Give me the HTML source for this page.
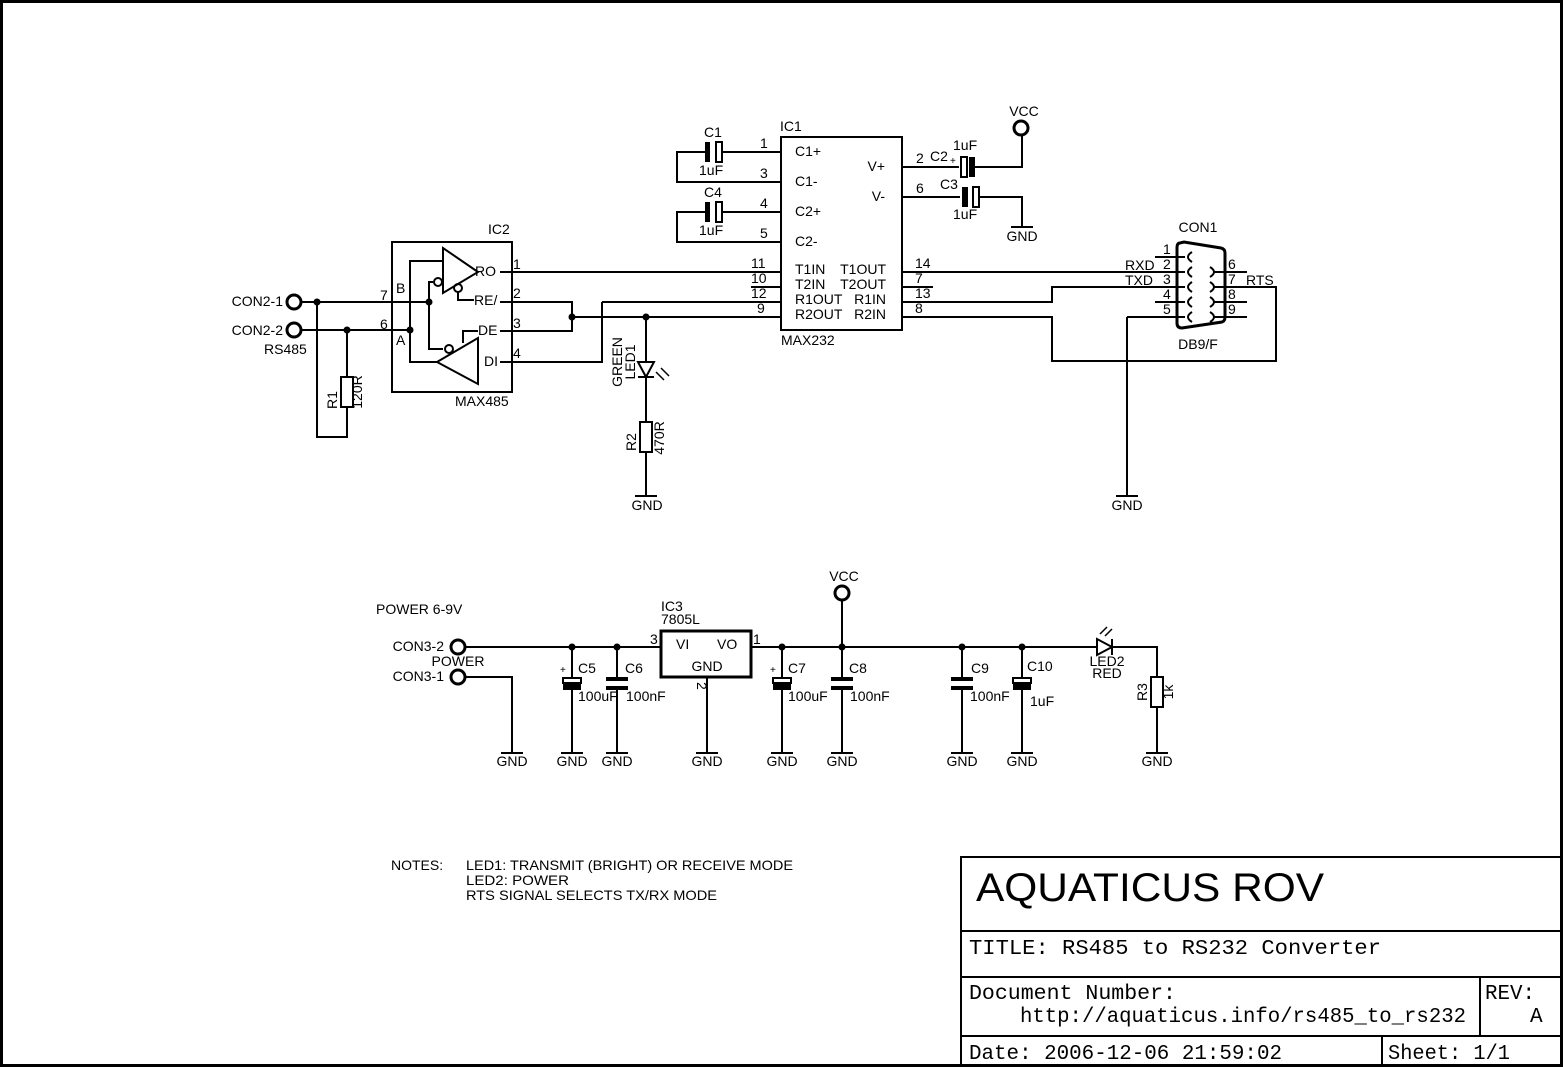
<!DOCTYPE html>
<html><head><meta charset="utf-8"><style>
html,body{margin:0;padding:0;background:#fff}
svg{display:block}
text{font-family:"Liberation Sans",sans-serif;font-size:14px;fill:#000}
.m{font-family:"Liberation Mono",monospace;font-size:21px}
.s{font-size:10px}
</style></head><body>
<svg width="1563" height="1068" viewBox="0 0 1563 1068" xmlns="http://www.w3.org/2000/svg">
<g fill="none" stroke="#000" stroke-width="2">
<rect x="1.5" y="1.5" width="1560" height="1064" stroke-width="3"/>
<path d="M961 1064 V857 H1560 M961 931 H1560 M961 977 H1560 M961 1036 H1560 M1480 977 V1036 M1382 1036 V1064"/>

<rect x="392" y="242" width="120" height="150"/>
<circle cx="294" cy="302" r="7" stroke-width="3"/>
<circle cx="294" cy="330" r="7" stroke-width="3"/>
<path d="M301 302 H429 M301 330 H410"/>
<path d="M347 330 V377 M347 407 V437 H317 V302"/>
<rect x="341" y="377" width="12" height="30"/>
<path d="M410 330 V261 H443 M410 330 V362 H437"/>
<path d="M429 302 V282 H433 M429 302 V349 H443"/>
<path d="M443 248 V293 L478 272 Z"/>
<circle cx="438" cy="282" r="4"/>
<circle cx="458" cy="288" r="4"/>
<path d="M458 292 V300 H474"/>
<path d="M437 362 L478 338 V384 Z"/>
<circle cx="449" cy="349" r="4"/>
<path d="M463 343 V331 H478"/>
<path d="M500 272 H781 M500 302 H572 V331 H500 M572 317 H781 M602 302 H781 M602 302 V362 H500"/>
<path d="M751 287 H781"/>
<path d="M646 317 V362 M646 377 V422 M646 452 V496"/>
<path d="M638 362 H654 L646 377 Z M638 377 H654"/>
<path d="M656 372 L664 380 M661 368 L669 376" stroke-width="1.5"/>
<rect x="640" y="422" width="12" height="30"/>
<path d="M635 496 H657"/>

<rect x="781" y="137" width="121" height="193"/>
<path d="M723 152 H781 M705 152 H677 V182 H781"/>
<path d="M723 212 H781 M705 212 H677 V242 H781"/>
<rect x="716" y="142" width="6" height="20"/>
<rect x="716" y="202" width="6" height="20"/>
<path d="M902 167 H959 M975 167 H1022 V135"/>
<circle cx="1021" cy="128" r="7" stroke-width="3"/>
<rect x="961" y="157" width="6" height="20"/>
<path d="M902 197 H960 M980 197 H1022 V227 M1011 227 H1033"/>
<rect x="973" y="187" width="6" height="20"/>
<path d="M902 272 H1185 M902 287 H933 M902 302 H1052 V287 H1185 M902 317 H1052 V361 H1276 V287 H1213"/>
<path d="M1180 243 Q1177 243 1177 248 V323 Q1177 328 1182 328 L1222 322 Q1225 321 1225 317 V253 Q1225 249 1221 248 L1184 242 Z" stroke-width="3"/>
<path d="M1155 257 H1185 M1155 302 H1185 M1127 317 H1185 M1213 272 H1247 M1213 302 H1247 M1213 317 H1247"/>
<path d="M1192 252 Q1184 257 1192 262 M1192 267 Q1184 272 1192 277 M1192 282 Q1184 287 1192 292 M1192 297 Q1184 302 1192 307 M1192 312 Q1184 317 1192 322"/>
<path d="M1210 267 Q1218 272 1210 277 M1210 282 Q1218 287 1210 292 M1210 297 Q1218 302 1210 307 M1210 312 Q1218 317 1210 322"/>
<path d="M1127 317 V496 M1116 496 H1138"/>

<circle cx="458" cy="647" r="7" stroke-width="3"/>
<circle cx="458" cy="677" r="7" stroke-width="3"/>
<path d="M465 647 H661 M465 677 H512 V753 M501 753 H523"/>
<rect x="661" y="631" width="90" height="46" stroke-width="3"/>
<path d="M707 677 V753 M696 753 H718"/>
<path d="M751 647 H1097 M1112 647 H1157 V677 M1157 707 V753 M1146 753 H1168"/>
<rect x="1151" y="677" width="12" height="30"/>
<path d="M1097 639 V655 L1112 647 Z M1112 639 V655"/>
<path d="M1100 634 L1107 627 M1105 636 L1112 629" stroke-width="1.5"/>
<path d="M842 647 V600"/>
<circle cx="842" cy="593" r="7" stroke-width="3"/>
<path d="M572 647 V677 M572 690 V753 M561 753 H583"/>
<rect x="563" y="678" width="18" height="5"/>
<path d="M617 647 V679 M617 689 V753 M606 753 H628"/>
<path d="M782 647 V677 M782 690 V753 M771 753 H793"/>
<rect x="773" y="678" width="18" height="5"/>
<path d="M842 647 V679 M842 689 V753 M831 753 H853"/>
<path d="M962 647 V679 M962 689 V753 M951 753 H973"/>
<path d="M1022 647 V677 M1022 690 V753 M1011 753 H1033"/>
<rect x="1013" y="678" width="18" height="5"/>
</g>
<g fill="#000">
<circle cx="317" cy="302" r="3.5"/><circle cx="347" cy="330" r="3.5"/>
<circle cx="429" cy="302" r="3.5"/><circle cx="410" cy="330" r="3.5"/>
<circle cx="572" cy="317" r="3.5"/><circle cx="646" cy="317" r="3.5"/>
<circle cx="572" cy="647" r="3.5"/><circle cx="617" cy="647" r="3.5"/>
<circle cx="782" cy="647" r="3.5"/><circle cx="842" cy="647" r="3.5"/>
<circle cx="962" cy="647" r="3.5"/><circle cx="1022" cy="647" r="3.5"/>
<rect x="705" y="142" width="5" height="20"/>
<rect x="705" y="202" width="5" height="20"/>
<rect x="969" y="157" width="6" height="20"/>
<rect x="962" y="187" width="6" height="20"/>
<rect x="563" y="684" width="18" height="6"/>
<rect x="606" y="677" width="22" height="4"/><rect x="606" y="686" width="22" height="4"/>
<rect x="773" y="684" width="18" height="6"/>
<rect x="831" y="677" width="22" height="4"/><rect x="831" y="686" width="22" height="4"/>
<rect x="951" y="677" width="22" height="4"/><rect x="951" y="686" width="22" height="4"/>
<rect x="1013" y="684" width="18" height="6"/>
</g>

<text x="488" y="234">IC2</text>
<text x="455" y="406">MAX485</text>
<text x="283" y="306" text-anchor="end">CON2-1</text>
<text x="283" y="335" text-anchor="end">CON2-2</text>
<text x="264" y="354">RS485</text>
<text x="380" y="300">7</text><text x="380" y="329">6</text>
<text x="396" y="293">B</text><text x="396" y="345">A</text>
<text x="475" y="276">RO</text><text x="474" y="305">RE/</text>
<text x="478" y="335">DE</text><text x="484" y="366">DI</text>
<text x="513" y="269">1</text><text x="513" y="298">2</text>
<text x="513" y="328">3</text><text x="513" y="358">4</text>
<text transform="translate(337,400) rotate(-90)" text-anchor="middle">R1</text>
<text transform="translate(362,392) rotate(-90)" text-anchor="middle">120R</text>
<text transform="translate(622,362) rotate(-90)" text-anchor="middle">GREEN</text>
<text transform="translate(635,362) rotate(-90)" text-anchor="middle">LED1</text>
<text transform="translate(636,442) rotate(-90)" text-anchor="middle">R2</text>
<text transform="translate(664,438) rotate(-90)" text-anchor="middle">470R</text>
<text x="647" y="510" text-anchor="middle">GND</text>
<text x="780" y="131">IC1</text>
<text x="781" y="345">MAX232</text>
<text x="704" y="137">C1</text><text x="699" y="175">1uF</text>
<text x="704" y="197">C4</text><text x="699" y="235">1uF</text>
<text x="760" y="148">1</text><text x="760" y="178">3</text>
<text x="760" y="208">4</text><text x="760" y="238">5</text>
<text x="795" y="156">C1+</text><text x="795" y="186">C1-</text>
<text x="795" y="216">C2+</text><text x="795" y="246">C2-</text>
<text x="885" y="171" text-anchor="end">V+</text><text x="885" y="201" text-anchor="end">V-</text>
<text x="916" y="163">2</text><text x="916" y="193">6</text>
<text x="930" y="161">C2</text><text class="s" x="950" y="164">+</text>
<text x="953" y="150">1uF</text>
<text x="940" y="189">C3</text><text x="953" y="219">1uF</text>
<text x="1024" y="116" text-anchor="middle">VCC</text>
<text x="1022" y="241" text-anchor="middle">GND</text>
<text x="795" y="274">T1IN</text><text x="795" y="289">T2IN</text>
<text x="795" y="304">R1OUT</text><text x="795" y="319">R2OUT</text>
<text x="886" y="274" text-anchor="end">T1OUT</text><text x="886" y="289" text-anchor="end">T2OUT</text>
<text x="886" y="304" text-anchor="end">R1IN</text><text x="886" y="319" text-anchor="end">R2IN</text>
<text x="751" y="268">11</text><text x="751" y="283">10</text>
<text x="751" y="298">12</text><text x="757" y="313">9</text>
<text x="915" y="268">14</text><text x="915" y="283">7</text>
<text x="915" y="298">13</text><text x="915" y="313">8</text>
<text x="1198" y="232" text-anchor="middle">CON1</text>
<text x="1198" y="349" text-anchor="middle">DB9/F</text>
<text x="1125" y="270">RXD</text><text x="1125" y="285">TXD</text>
<text x="1246" y="285">RTS</text>
<text x="1163" y="254">1</text><text x="1163" y="269">2</text><text x="1163" y="284">3</text>
<text x="1163" y="299">4</text><text x="1163" y="314">5</text>
<text x="1228" y="269">6</text><text x="1228" y="284">7</text><text x="1228" y="299">8</text><text x="1228" y="314">9</text>
<text x="1127" y="510" text-anchor="middle">GND</text>
<text x="376" y="614">POWER 6-9V</text>
<text x="444" y="651" text-anchor="end">CON3-2</text>
<text x="458" y="666" text-anchor="middle">POWER</text>
<text x="444" y="681" text-anchor="end">CON3-1</text>
<text x="661" y="611">IC3</text><text x="661" y="624">7805L</text>
<text x="650" y="644">3</text><text x="753" y="644">1</text>
<text x="676" y="649">VI</text><text x="717" y="649">VO</text>
<text x="707" y="671" text-anchor="middle">GND</text>
<text transform="translate(697,682) rotate(90)">2</text>
<text x="844" y="581" text-anchor="middle">VCC</text>
<text x="578" y="673">C5</text><text x="578" y="701">100uF</text>
<text class="s" x="560" y="673">+</text>
<text x="625" y="673">C6</text><text x="626" y="701">100nF</text>
<text x="788" y="673">C7</text><text x="788" y="701">100uF</text>
<text class="s" x="770" y="673">+</text>
<text x="849" y="673">C8</text><text x="850" y="701">100nF</text>
<text x="971" y="673">C9</text><text x="970" y="701">100nF</text>
<text x="1027" y="671">C10</text><text x="1030" y="706">1uF</text>
<text x="1107" y="666" text-anchor="middle">LED2</text>
<text x="1107" y="678" text-anchor="middle">RED</text>
<text transform="translate(1147,692) rotate(-90)" text-anchor="middle">R3</text>
<text transform="translate(1173,692) rotate(-90)" text-anchor="middle">1k</text>
<text x="512" y="766" text-anchor="middle">GND</text>
<text x="572" y="766" text-anchor="middle">GND</text>
<text x="617" y="766" text-anchor="middle">GND</text>
<text x="707" y="766" text-anchor="middle">GND</text>
<text x="782" y="766" text-anchor="middle">GND</text>
<text x="842" y="766" text-anchor="middle">GND</text>
<text x="962" y="766" text-anchor="middle">GND</text>
<text x="1022" y="766" text-anchor="middle">GND</text>
<text x="1157" y="766" text-anchor="middle">GND</text>
<text x="391" y="870">NOTES:</text>
<text x="466" y="870" textLength="327" lengthAdjust="spacingAndGlyphs">LED1: TRANSMIT (BRIGHT) OR RECEIVE MODE</text>
<text x="466" y="885" textLength="103" lengthAdjust="spacingAndGlyphs">LED2: POWER</text>
<text x="466" y="900" textLength="251" lengthAdjust="spacingAndGlyphs">RTS SIGNAL SELECTS TX/RX MODE</text>
<text x="976" y="901" style="font-size:40px" textLength="348" lengthAdjust="spacingAndGlyphs">AQUATICUS ROV</text>
<text class="m" x="969" y="954" textLength="412" lengthAdjust="spacingAndGlyphs">TITLE:  RS485 to RS232 Converter</text>
<text class="m" x="969" y="999" textLength="207" lengthAdjust="spacingAndGlyphs">Document Number:</text>
<text class="m" x="1020" y="1022" textLength="446" lengthAdjust="spacingAndGlyphs">http://aquaticus.info/rs485_to_rs232</text>
<text class="m" x="1485" y="999" textLength="50" lengthAdjust="spacingAndGlyphs">REV:</text>
<text class="m" x="1530" y="1022">A</text>
<text class="m" x="969" y="1059" textLength="313" lengthAdjust="spacingAndGlyphs">Date: 2006-12-06 21:59:02</text>
<text class="m" x="1388" y="1059" textLength="122" lengthAdjust="spacingAndGlyphs">Sheet: 1/1</text>
</svg>
</body></html>
